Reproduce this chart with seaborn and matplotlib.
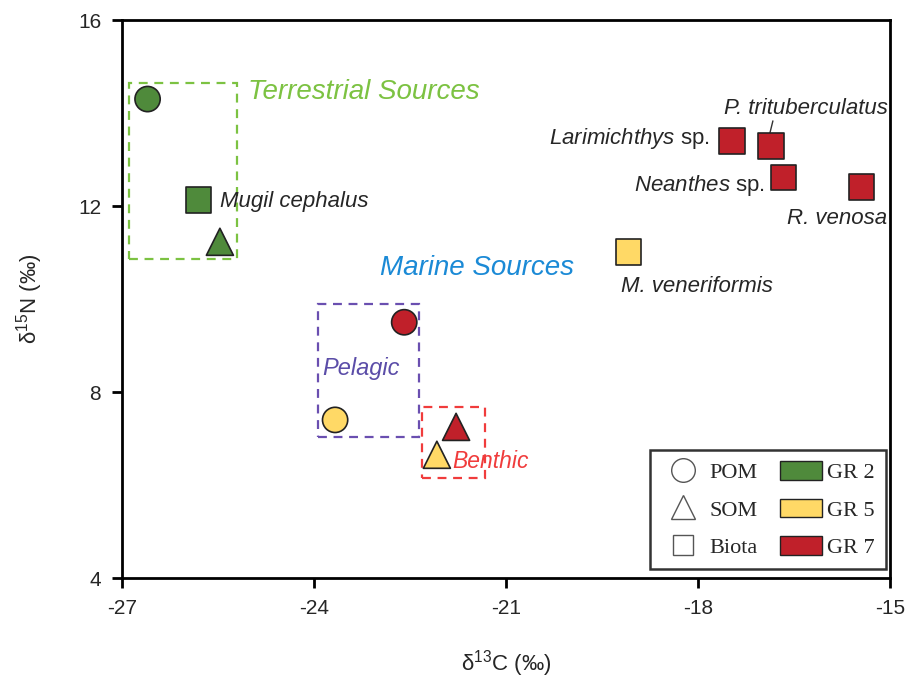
import matplotlib
matplotlib.use("Agg")
import matplotlib.pyplot as plt
from matplotlib.patches import Rectangle, Patch
from matplotlib.lines import Line2D
import seaborn as sns
import pandas as pd

sns.set_theme(style="white")
plt.rcParams['font.family'] = ['Liberation Sans', 'DejaVu Sans']
plt.rcParams['axes.unicode_minus'] = False
plt.rcParams['mathtext.fontset'] = 'custom'
plt.rcParams['mathtext.rm'] = 'Liberation Sans'
plt.rcParams['mathtext.it'] = 'Liberation Sans:italic'

# d13C / d15N values
d13c = [-26.6, -25.8, -25.47, -22.59, -23.67, -21.78, -22.08,
        -19.08, -17.47, -16.86, -16.67, -15.45]
d15n = [14.3, 12.13, 11.23, 9.5, 7.4, 7.25, 6.65,
        11.01, 13.4, 13.29, 12.62, 12.41]
site = ['GR 2', 'GR 2', 'GR 2', 'GR 7', 'GR 5', 'GR 7', 'GR 5',
        'GR 5', 'GR 7', 'GR 7', 'GR 7', 'GR 7']
kind = ['POM', 'Biota', 'SOM', 'POM', 'POM', 'SOM', 'SOM',
        'Biota', 'Biota', 'Biota', 'Biota', 'Biota']

df = pd.DataFrame({'d13C': d13c, 'd15N': d15n, 'site': site, 'kind': kind})

colors = {'GR 2': '#4F8A3B', 'GR 5': '#FFD966', 'GR 7': '#C0202A'}
markers = {'POM': 'o', 'SOM': '^', 'Biota': 's'}

fig = plt.figure(figsize=(9.15, 6.85), dpi=100)
ax = fig.add_axes([0.1333, 0.1562, 0.8394, 0.8146])

for k, m in markers.items():
    sub = df[df['kind'] == k]
    size = 330 if k != 'SOM' else 380
    sns.scatterplot(data=sub, x='d13C', y='d15N', hue='site', palette=colors,
                    marker=m, s=size, edgecolor='#222222', linewidth=1.2,
                    ax=ax, legend=False, zorder=3)

# dashed boxes
boxes = [((-26.89, 10.86), 1.69, 3.79, '#7CC242'),
         ((-23.94, 7.03), 1.58, 2.86, '#6A4FB0'),
         ((-22.31, 6.15), 0.98, 1.53, '#F03C3C')]
for (x0, y0), w, h, c in boxes:
    ax.add_patch(Rectangle((x0, y0), w, h, fill=False, ls=(0, (4, 3)),
                           lw=1.6, edgecolor=c, zorder=2))

ax.text(-25.03, 14.45, 'Terrestrial Sources', color='#7CC242', style='italic',
        fontsize=20, va='center')
ax.text(-22.97, 10.67, 'Marine Sources', color='#1B8AD6', style='italic',
        fontsize=20, va='center')
ax.text(-23.87, 8.5, 'Pelagic', color='#5B4DA8', style='italic',
        fontsize=17, va='center')
ax.text(-21.84, 6.5, 'Benthic', color='#F03C3C', style='italic',
        fontsize=16.5, va='center', zorder=4)

# species labels
fs = 16
ax.text(-25.47, 12.09, 'Mugil cephalus', style='italic', fontsize=fs, va='center')
ax.text(-17.82, 13.45, '$\\it{Larimichthys}$ sp.', fontsize=fs, va='center', ha='right')
ax.text(-15.03, 14.1, 'P. trituberculatus', style='italic', fontsize=fs,
        va='center', ha='right')
ax.plot([-16.83, -16.88], [13.83, 13.55], color='#333333', lw=1)
ax.text(-16.96, 12.45, '$\\it{Neanthes}$ sp.', fontsize=fs, va='center', ha='right')
ax.text(-15.05, 11.73, 'R. venosa', style='italic', fontsize=fs, va='center', ha='right')
ax.text(-19.2, 10.27, 'M. veneriformis', style='italic', fontsize=fs, va='center')

ax.set_xlim(-27, -15)
ax.set_ylim(4, 16)
ax.set_xticks([-27, -24, -21, -18, -15])
ax.set_yticks([4, 8, 12, 16])
ax.tick_params(direction='out', length=7, width=2, labelsize=15, color='black',
               bottom=True, left=True, pad=8)
for s in ax.spines.values():
    s.set_color('black')
    s.set_linewidth(2)
ax.set_xlabel('δ$^{13}$C (‰)', fontsize=16, labelpad=22)
ax.set_ylabel('δ$^{15}$N (‰)', fontsize=16, labelpad=24)

handles = [Line2D([], [], marker='o', ls='', mfc='white', mec='#555555', ms=17, label='POM'),
           Line2D([], [], marker='^', ls='', mfc='white', mec='#555555', ms=17, label='SOM'),
           Line2D([], [], marker='s', ls='', mfc='white', mec='#555555', ms=15, label='Biota'),
           Patch(fc=colors['GR 2'], ec='#222222', label='GR 2'),
           Patch(fc=colors['GR 5'], ec='#222222', label='GR 5'),
           Patch(fc=colors['GR 7'], ec='#222222', label='GR 7')]
leg = ax.legend(handles=handles, ncol=2, loc='lower right', bbox_to_anchor=(0.995, 0.016),
                borderaxespad=0,
                prop={'family': 'Liberation Serif', 'size': 16}, frameon=True,
                fancybox=False, edgecolor='black', handlelength=1.9, handleheight=0.9,
                columnspacing=1.0, labelspacing=0.7, borderpad=0.5, handletextpad=0.25)
leg.get_frame().set_linewidth(1.8)

fig.savefig('out.png', dpi=100)
